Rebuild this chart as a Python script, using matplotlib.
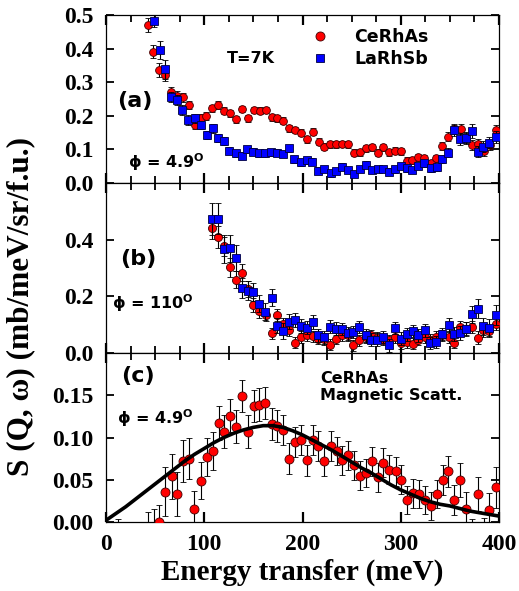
import numpy as np
import matplotlib
matplotlib.use("Agg")
import matplotlib.pyplot as plt
from matplotlib.ticker import MultipleLocator, FormatStrFormatter
from matplotlib.lines import Line2D

# -----------------------------
# Data
# -----------------------------

# (a) phi = 4.9 deg, T = 7 K
e_red_a = [43, 47.5, 54, 60, 66, 72.5, 78, 84.5, 91, 96.7, 102, 108, 114.3, 120.4, 126.2,
           132.3, 138.8, 144.9, 150.6, 156.7, 162.5, 168.6, 174.4, 180.5, 186.6, 192.4, 198.1,
           204.2, 210.3, 216.5, 222.2, 228, 234, 240.2, 246.3, 252.2, 258.2, 264.3, 270.4,
           276.5, 282.3, 288.4, 294.1, 300, 306, 311.8, 317.9, 324, 330.5, 335.9, 342.3,
           348.4, 354.5, 361, 366.4, 372.8, 379, 384.7, 390.8, 396.6]
s_red_a = [0.470, 0.391, 0.336, 0.321, 0.272, 0.26, 0.255, 0.232, 0.173, 0.193, 0.199, 0.222,
           0.232, 0.215, 0.207, 0.19, 0.22, 0.193, 0.217, 0.215, 0.217, 0.196, 0.193, 0.185,
           0.163, 0.158, 0.15, 0.13, 0.153, 0.123, 0.108, 0.115, 0.115, 0.116, 0.115, 0.09,
           0.091, 0.103, 0.106, 0.09, 0.106, 0.091, 0.096, 0.094, 0.066, 0.068, 0.076, 0.073,
           0.059, 0.073, 0.11, 0.138, 0.16, 0.161, 0.133, 0.113, 0.115, 0.095, 0.113, 0.158]
err_red_a = [0.02, 0.02, 0.02, 0.018, 0.015, 0.013, 0.014, 0.013, 0.012, 0.012, 0.011, 0.011,
             0.011, 0.01, 0.01, 0.01, 0.01, 0.01, 0.01, 0.01, 0.01, 0.01, 0.01, 0.01,
             0.01, 0.01, 0.01, 0.01, 0.01, 0.01, 0.01, 0.01, 0.01, 0.01, 0.01, 0.01,
             0.01, 0.01, 0.01, 0.01, 0.01, 0.01, 0.01, 0.01, 0.01, 0.01, 0.01, 0.01,
             0.01, 0.01, 0.012, 0.013, 0.014, 0.015, 0.015, 0.015, 0.015, 0.015, 0.015, 0.016]
e_blue_a = [48.9, 55, 60, 65.8, 71.9, 77.7, 83.8, 90.6, 96.4, 102.5, 108.6, 113.7, 120.4, 125.5,
            132.3, 138.8, 143.8, 150, 155.7, 161.8, 168, 173.7, 179.8, 186.6, 191.6, 198.1,
            204.2, 209.7, 215.8, 222.2, 228.7, 234.1, 240.5, 246.6, 252.4, 258.5, 264.3, 270.4,
            276.5, 282.3, 288.4, 294.1, 300, 306, 311.8, 317.9, 324, 330.5, 336.6, 342.3,
            348.4, 354.5, 360.3, 366.4, 372.8, 378.3, 384, 390.1, 396.6]
s_blue_a = [0.483, 0.396, 0.338, 0.255, 0.247, 0.217, 0.188, 0.193, 0.173, 0.143, 0.163, 0.133,
            0.125, 0.096, 0.088, 0.081, 0.1, 0.093, 0.088, 0.088, 0.091, 0.09, 0.086, 0.103,
            0.071, 0.062, 0.068, 0.063, 0.037, 0.042, 0.029, 0.036, 0.049, 0.039, 0.027, 0.042,
            0.054, 0.039, 0.042, 0.042, 0.034, 0.041, 0.051, 0.044, 0.039, 0.051, 0.059, 0.044,
            0.047, 0.071, 0.09, 0.158, 0.13, 0.135, 0.155, 0.093, 0.108, 0.12, 0.138]
err_blue_a = [0.02, 0.028, 0.028, 0.015, 0.015, 0.014, 0.014, 0.013, 0.013, 0.013, 0.013, 0.012,
              0.012, 0.011, 0.011, 0.01, 0.01, 0.01, 0.01, 0.01, 0.01, 0.01, 0.01, 0.01,
              0.01, 0.01, 0.01, 0.01, 0.01, 0.01, 0.01, 0.01, 0.01, 0.01, 0.01, 0.01,
              0.01, 0.01, 0.01, 0.01, 0.01, 0.01, 0.01, 0.01, 0.01, 0.01, 0.01, 0.01,
              0.01, 0.012, 0.014, 0.018, 0.018, 0.018, 0.02, 0.016, 0.016, 0.017, 0.018]

# (b) phi = 110 deg
e_blue_b = [107.6, 114.3, 120.1, 126.2, 132.3, 138.1, 144.2, 149.9, 156, 162.1, 168.6, 174,
            180.5, 186.3, 192.4, 198.5, 204.9, 210.3, 216.1, 222.2, 228, 233.8, 239.9, 246,
            251.7, 257.8, 264.3, 269.7, 275.5, 282.3, 288, 294.1, 300.3, 306, 312.2, 317.9,
            324.3, 329.8, 335.9, 342.3, 348.8, 354.2, 360.3, 366.4, 372.2, 379, 384.1, 390.2, 397]
s_blue_b = [0.473, 0.474, 0.367, 0.37, 0.335, 0.228, 0.22, 0.216, 0.173, 0.145, 0.195, 0.096,
            0.078, 0.11, 0.116, 0.096, 0.09, 0.11, 0.063, 0.055, 0.092, 0.086, 0.084, 0.069,
            0.075, 0.092, 0.062, 0.047, 0.047, 0.057, 0.027, 0.088, 0.051, 0.066, 0.077, 0.062,
            0.08, 0.035, 0.039, 0.068, 0.1, 0.066, 0.071, 0.084, 0.137, 0.157, 0.094, 0.09, 0.133]
err_blue_b = [0.057, 0.055, 0.05, 0.048, 0.045, 0.035, 0.033, 0.032, 0.03, 0.03, 0.03, 0.027,
              0.027, 0.026, 0.025, 0.025, 0.024, 0.024, 0.023, 0.023, 0.023, 0.023, 0.022, 0.022,
              0.022, 0.022, 0.022, 0.022, 0.022, 0.022, 0.022, 0.022, 0.022, 0.022, 0.022, 0.022,
              0.022, 0.022, 0.022, 0.022, 0.025, 0.025, 0.025, 0.025, 0.03, 0.035, 0.03, 0.03, 0.035]
e_red_b = [108.2, 114.3, 120.1, 126.2, 132.3, 138.8, 144.2, 149.9, 156, 162.5, 168.6, 174.4,
           180.5, 186.6, 192.4, 198.5, 204.9, 210.3, 216.1, 222.2, 228, 233.8, 239.9, 246,
           251.7, 257.8, 264.3, 269.7, 275.5, 282.3, 288, 294.1, 300.3, 306, 312.2, 317.9,
           324.3, 329.8, 335.9, 342.3, 348.8, 354.2, 360.3, 366.4, 372.2, 379, 384.1, 390.2, 397]
s_red_b = [0.441, 0.409, 0.376, 0.303, 0.258, 0.284, 0.225, 0.169, 0.15, 0.134, 0.069, 0.134,
           0.104, 0.08, 0.037, 0.057, 0.063, 0.059, 0.051, 0.049, 0.03, 0.051, 0.063, 0.062,
           0.027, 0.045, 0.057, 0.062, 0.054, 0.047, 0.045, 0.057, 0.035, 0.039, 0.033, 0.047,
           0.057, 0.047, 0.057, 0.062, 0.057, 0.037, 0.092, 0.086, 0.092, 0.054, 0.08, 0.078, 0.104]
err_red_b = [0.04, 0.038, 0.035, 0.033, 0.03, 0.03, 0.028, 0.025, 0.025, 0.022, 0.02, 0.02,
             0.02, 0.02, 0.02, 0.02, 0.02, 0.02, 0.02, 0.02, 0.02, 0.02, 0.02, 0.02,
             0.02, 0.02, 0.02, 0.02, 0.02, 0.02, 0.02, 0.02, 0.02, 0.02, 0.02, 0.02,
             0.02, 0.02, 0.02, 0.02, 0.02, 0.02, 0.022, 0.022, 0.022, 0.022, 0.022, 0.022, 0.022]

# (c) CeRhAs magnetic scattering, phi = 4.9 deg
e_mag = [12.6, 43, 49, 54.3, 60.4, 66.8, 72.3, 78, 84.1, 89.9, 96.7, 102.5, 108.6, 114.7, 120.4,
         126.2, 132.3, 138.4, 144.9, 150.3, 156.1, 162.1, 168.6, 174.4, 180.5, 186.6, 192.4,
         198.5, 204.2, 210.3, 216.1, 222.2, 228.7, 234.8, 240.5, 246.6, 252.4, 258.5, 264.6,
         270.4, 276.5, 282.3, 288.4, 294.8, 300.3, 306, 312.8, 318.9, 324.7, 330.8, 336.6,
         342.7, 348.4, 354.2, 360.3, 366.4, 372.2, 378.9, 384.5, 390.1, 396.9]
s_mag = [-0.02, -0.01, -0.008, 0.0, 0.036, 0.054, 0.033, 0.072, 0.075, 0.015, 0.049, 0.077,
         0.084, 0.117, 0.107, 0.126, 0.113, 0.149, 0.107, 0.137, 0.139, 0.141, 0.116, 0.114,
         0.109, 0.075, 0.095, 0.097, 0.073, 0.097, 0.09, 0.072, 0.09, 0.084, 0.073, 0.079,
         0.067, 0.055, 0.058, 0.072, 0.053, 0.07, 0.062, 0.06, 0.05, 0.026, 0.034, 0.033,
         0.026, 0.019, 0.033, 0.05, 0.06, 0.026, 0.05, 0.015, -0.02, 0.033, -0.015, 0.014, 0.041]
err_mag = [0.024, 0.022, 0.023, 0.02, 0.029, 0.027, 0.026, 0.025, 0.024, 0.022, 0.022, 0.022,
           0.022, 0.02, 0.02, 0.02, 0.02, 0.019, 0.02, 0.019, 0.019, 0.019, 0.019, 0.019,
           0.018, 0.018, 0.018, 0.018, 0.018, 0.018, 0.018, 0.018, 0.018, 0.017, 0.017, 0.017,
           0.017, 0.017, 0.017, 0.017, 0.017, 0.017, 0.017, 0.017, 0.017, 0.017, 0.017, 0.017,
           0.017, 0.017, 0.017, 0.018, 0.018, 0.018, 0.02, 0.02, 0.023, 0.02, 0.02, 0.02, 0.024]

# fitted curve in (c)
fit_e = [0, 10, 20, 30, 40, 50, 60, 70, 80, 90, 100, 110, 120, 130, 140, 150, 160, 170, 180,
         190, 200, 210, 220, 230, 240, 250, 260, 270, 280, 290, 300, 310, 320, 330, 340, 350,
         360, 370, 380, 390, 400]
fit_s = [0.002, 0.010, 0.018, 0.027, 0.036, 0.045, 0.054, 0.063, 0.072, 0.080, 0.087, 0.094,
         0.100, 0.105, 0.109, 0.112, 0.114, 0.114, 0.112, 0.108, 0.103, 0.097, 0.091, 0.085,
         0.078, 0.071, 0.064, 0.058, 0.051, 0.044, 0.038, 0.033, 0.028, 0.024, 0.021, 0.019,
         0.016, 0.013, 0.011, 0.009, 0.007]

# -----------------------------
# Figure
# -----------------------------

SERIF = "Liberation Serif"
SANS = "DejaVu Sans"
plt.rcParams["mathtext.fontset"] = "dejavusans"

W, H = 519, 591
fig = plt.figure(figsize=(W / 100, H / 100), dpi=100)
rows = [15, 183, 353, 522]   # panel edges in pixels from the top
x0, x1 = 106, 499
axes = []
for i in range(3):
    ax = fig.add_axes([x0 / W, 1 - rows[i + 1] / H, (x1 - x0) / W, (rows[i + 1] - rows[i]) / H])
    axes.append(ax)
ax_a, ax_b, ax_c = axes

red_kw = dict(fmt="o", mfc="red", mec="#400000", mew=0.6, ecolor="black",
              elinewidth=0.8, capsize=2.2, capthick=0.8)
blue_kw = dict(fmt="s", mfc="#0000ff", mec="#000040", mew=0.6, ecolor="black",
               elinewidth=0.8, capsize=2.2, capthick=0.8)

ax_a.errorbar(e_red_a, s_red_a, yerr=err_red_a, ms=5.6, zorder=3, **red_kw)
ax_a.errorbar(e_blue_a, s_blue_a, yerr=err_blue_a, ms=5.1, zorder=4, **blue_kw)
ax_b.errorbar(e_red_b, s_red_b, yerr=err_red_b, ms=5.8, zorder=3, **red_kw)
ax_b.errorbar(e_blue_b, s_blue_b, yerr=err_blue_b, ms=5.3, zorder=4, **blue_kw)
ax_c.errorbar(e_mag, s_mag, yerr=err_mag, ms=6.5, zorder=3, **red_kw)
ax_c.plot(fit_e, fit_s, color="black", lw=2.6, zorder=4)

ax_a.set_ylim(0, 0.5)
ax_b.set_ylim(0, 0.6)
ax_c.set_ylim(0, 0.2)
ax_a.set_yticks([0, 0.1, 0.2, 0.3, 0.4, 0.5])
ax_b.set_yticks([0, 0.2, 0.4])
ax_c.set_yticks([0, 0.05, 0.10, 0.15])
ax_a.yaxis.set_major_formatter(FormatStrFormatter("%.1f"))
ax_b.yaxis.set_major_formatter(FormatStrFormatter("%.1f"))
ax_c.yaxis.set_major_formatter(FormatStrFormatter("%.2f"))

for ax in axes:
    ax.set_xlim(0, 400)
    ax.xaxis.set_major_locator(MultipleLocator(100))
    ax.xaxis.set_minor_locator(MultipleLocator(25))
    ax.tick_params(which="both", direction="in", top=True, right=True)
    ax.tick_params(axis="x", which="major", length=7, width=1.6)
    ax.tick_params(axis="x", which="minor", length=5, width=1.3)
    ax.tick_params(axis="y", which="major", length=6, width=1.3, pad=9)
    ax.tick_params(labelsize=17)
    for lab in ax.get_xticklabels() + ax.get_yticklabels():
        lab.set_family(SERIF)
        lab.set_weight("bold")
    for sp in ax.spines.values():
        sp.set_linewidth(0.9)

ax_a.tick_params(labelbottom=False)
ax_b.tick_params(labelbottom=False)
ax_c.tick_params(axis="x", which="minor", bottom=False)
ax_c.tick_params(axis="x", pad=9)

ax_c.set_xlabel("Energy transfer (meV)", family=SERIF, weight="bold", fontsize=21, labelpad=2)
fig.text(21 / W, 1 - 306 / H, "S (Q, \u03c9) (mb/meV/sr/f.u.)", family=SERIF, weight="bold",
         fontsize=22.5, rotation=90, ha="center", va="center")

# annotations
ann = dict(family=SANS, weight="bold")
ax_a.text(29.5, 0.244, "(a)", fontsize=16, ha="center", va="center", **ann)
ax_a.text(147.6, 0.372, "T=7K", fontsize=11.5, ha="center", va="center", **ann)
ax_a.text(22.4, 0.0625, "\u03d5 = 4.9$^\\mathbf{O}$", fontsize=11.5, ha="left", va="center", **ann)
ax_b.text(32.6, 0.332, "(b)", fontsize=16, ha="center", va="center", **ann)
ax_b.text(6.1, 0.176, "\u03d5 = 110$^\\mathbf{O}$", fontsize=11.5, ha="left", va="center", **ann)
ax_c.text(32.6, 0.173, "(c)", fontsize=16, ha="center", va="center", **ann)
ax_c.text(217.8, 0.160, "CeRhAs\nMagnetic Scatt.", fontsize=11.5, ha="left", va="center",
          linespacing=1.2, **ann)
ax_c.text(11.2, 0.123, "\u03d5 = 4.9$^\\mathbf{O}$", fontsize=11.5, ha="left", va="center", **ann)

handles = [Line2D([], [], ls="", marker="o", ms=6.5, mfc="red", mec="#400000", mew=0.6),
           Line2D([], [], ls="", marker="s", ms=5.5, mfc="#0000ff", mec="#000040", mew=0.6)]
ax_a.legend(handles, ["CeRhAs", "LaRhSb"], loc="upper left", bbox_to_anchor=(0.5216, 0.92),
            frameon=False, borderpad=0, borderaxespad=0, handlelength=1.0,
            handletextpad=1.5, labelspacing=0.2, prop=dict(family=SANS, weight="bold", size=12.5))

fig.savefig("out.png", dpi=100)
